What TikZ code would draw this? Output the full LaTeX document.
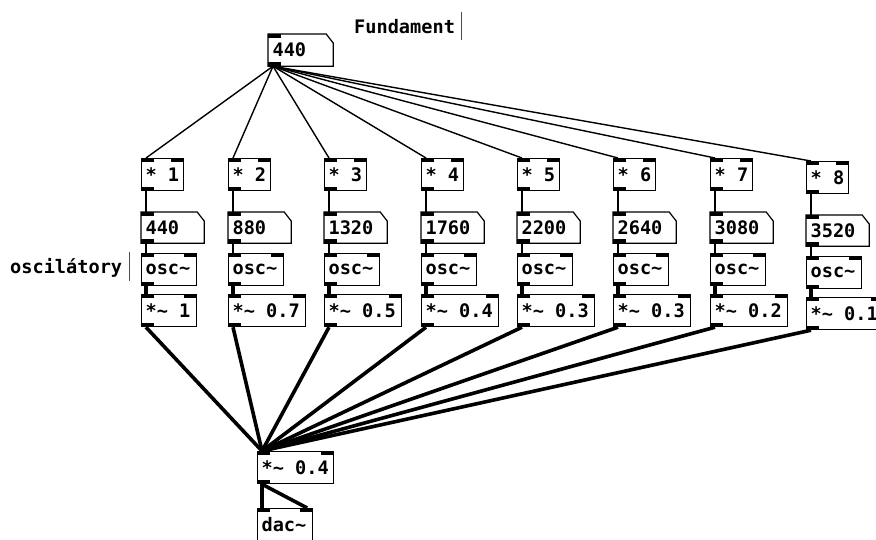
\documentclass[tikz,border=0pt]{standalone}
\usepackage{fontspec}
\setmonofont{DejaVu Sans Mono}
\usepackage{tikz}
\setlength{\parindent}{0pt}

\newcommand{\pdfont}{\fontsize{18.6}{20}\selectfont\ttfamily\bfseries}
\newcommand{\atomframe}[1]{\draw[boxline] (#1.north west) -- ([xshift=-7pt]#1.north east) -- ([yshift=-9pt]#1.north east) -- (#1.south east) -- (#1.south west) -- cycle;}
\newcommand{\inleft}[1]{\fill (#1.north west) rectangle ++(13,4);}
\newcommand{\inright}[1]{\fill (#1.north east) rectangle ++(-13,4);}
\newcommand{\outleft}[1]{\fill (#1.south west) rectangle ++(13,-4);}

\tikzset{
  boxline/.style={line width=1.2pt},
  obj/.style={draw, boxline, anchor=north west, inner xsep=4pt, inner ysep=0pt, minimum height=32pt, font=\pdfont,
    execute at begin node={\spaceskip=11.2pt\relax}},
  atom/.style={obj, draw=none, minimum height=30pt},
  ctl/.style={line width=1.4pt},
  sig/.style={line width=3.6pt},
  note/.style={anchor=base west, inner sep=0pt, font=\pdfont},
  cursorbar/.style={draw=black!70, line width=1pt}
}

\begin{document}
\begin{tikzpicture}[x=1pt, y=-1pt]
\useasboundingbox (0,0) rectangle (876,539);

% fundamental frequency
\node[atom, text width=56pt, minimum height=31pt] (fund) at (268,34) {440};
\atomframe{fund} \inleft{fund} \outleft{fund}
\node[note] (fundlbl) at (354,33) {Fundament};
\draw[cursorbar] (461,12) -- (461,40);

\node[note] (osclbl) at (10,273) {oscilátory};
\draw[cursorbar] (129,252) -- (129,281);

% output
\node[obj, text width=68pt] (mix) at (257,451) {*\textasciitilde{} 0.4};
\inleft{mix} \inright{mix} \outleft{mix}
\node[obj, text width=47pt] (dac) at (257,508) {dac\textasciitilde};
\inleft{dac} \inright{dac}
\draw[sig] ([xshift=5pt]mix.south west) -- ([xshift=5pt]dac.north west);
\draw[sig] ([xshift=5pt]mix.south west) -- ([xshift=-6pt]dac.north east);

% partials
\foreach \i/\x/\dy/\f/\a/\w in {1/141/0/440/1/47pt, 2/228/0/880/0.7/69pt,
    3/324/0/1320/0.5/69pt, 4/421/0/1760/0.4/69pt, 5/517/0/2200/0.3/69pt,
    6/613/0/2640/0.3/69pt, 7/710/0/3080/0.2/69pt, 8/806/3/3520/0.1/69pt} {
  \node[obj, text width=34pt] (mul\i) at (\x,158+\dy) {* \i};
  \inleft{mul\i} \inright{mul\i} \outleft{mul\i}
  \node[atom, text width=54pt] (num\i) at (\x,212+\dy) {\f};
  \atomframe{num\i} \inleft{num\i} \outleft{num\i}
  \node[obj, text width=47pt] (osc\i) at (\x,253+\dy) {osc\textasciitilde};
  \inleft{osc\i} \inright{osc\i} \outleft{osc\i}
  \node[obj, text width=\w] (amp\i) at (\x,294+\dy) {*\textasciitilde{} \a};
  \inleft{amp\i} \inright{amp\i} \outleft{amp\i}

  \draw[ctl] ([xshift=5pt]fund.south west) -- ([xshift=5pt]mul\i.north west);
  \draw[ctl] ([xshift=5pt]mul\i.south west) -- ([xshift=5pt]num\i.north west);
  \draw[ctl] ([xshift=5pt]num\i.south west) -- ([xshift=5pt]osc\i.north west);
  \draw[sig] ([xshift=5pt]osc\i.south west) -- ([xshift=5pt]amp\i.north west);
  \draw[sig] ([xshift=5pt]amp\i.south west) -- ([xshift=5pt]mix.north west);
}

\end{tikzpicture}
\end{document}
